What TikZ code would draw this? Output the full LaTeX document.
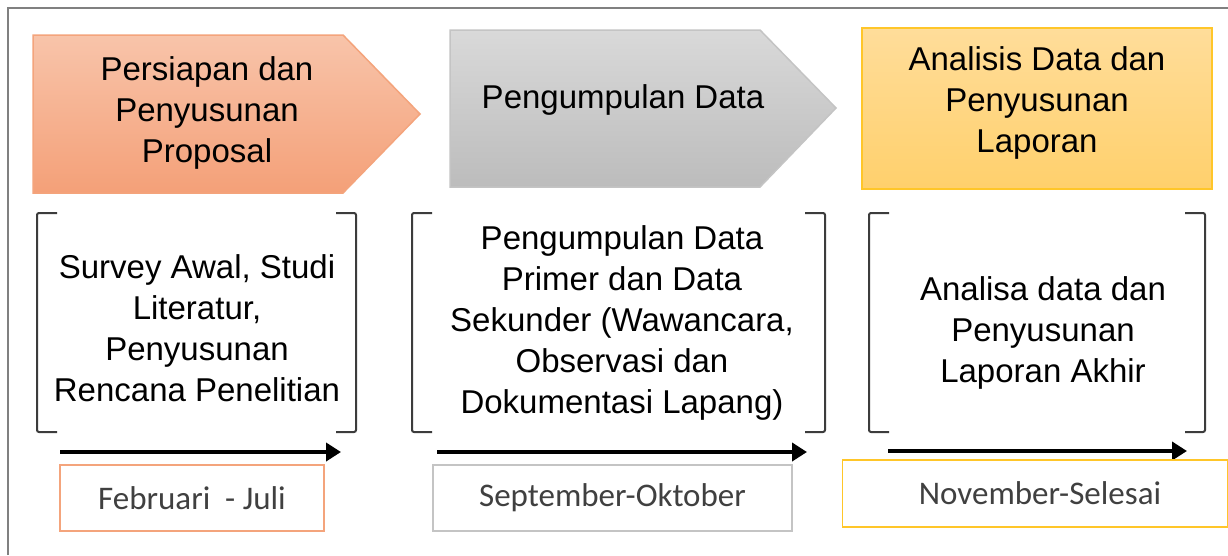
\documentclass[tikz,border=0pt]{standalone}
\usepackage{fontspec}
\setmainfont{Liberation Sans}
\newfontfamily\datefont{Carlito}
\usetikzlibrary{arrows.meta}
\definecolor{orgTop}{HTML}{F8C4AA}
\definecolor{orgBot}{HTML}{F4A078}
\definecolor{orgLine}{HTML}{F4A47C}
\definecolor{gryTop}{HTML}{D9D9D9}
\definecolor{gryBot}{HTML}{BCBCBC}
\definecolor{gryLine}{HTML}{C4C4C4}
\definecolor{ylwTop}{HTML}{FFDD9A}
\definecolor{ylwBot}{HTML}{FFD06C}
\definecolor{ylwLine}{HTML}{FFC629}
\definecolor{frameGray}{HTML}{808080}
\definecolor{brkGray}{HTML}{3C3C3C}
\definecolor{dateText}{HTML}{404040}
\tikzset{
  titletext/.style={align=center, inner sep=0pt, font=\fontsize{33}{41}\selectfont},
  bodytext/.style={align=center, inner sep=0pt, font=\fontsize{33}{41}\selectfont},
  bracketline/.style={draw=brkGray, line width=2pt, rounded corners=2pt},
  timeline/.style={draw=black, line width=3.8pt, -{Triangle[length=15pt,width=18pt]}},
  datebox/.style={rectangle, line width=1.8pt, minimum height=66pt, inner sep=0pt,
    text=dateText, font=\datefont\fontsize{33}{38}\selectfont},
}
\begin{document}
\begin{tikzpicture}[x=1pt,y=-1pt]
\useasboundingbox (0,0) rectangle (1228,555);
\fill[white] (0,0) rectangle (1228,555);
\draw[frameGray, line width=2pt] (8,555) -- (8,8) -- (1228,8);

% step shapes
\path[top color=orgTop, bottom color=orgBot, draw=orgLine, line width=1.5pt]
  (33,35) -- (343,35) -- (420,114) -- (343,193) -- (33,193) -- cycle;
\path[top color=gryTop, bottom color=gryBot, draw=gryLine, line width=1.5pt]
  (450,30) -- (760,30) -- (836,108) -- (760,187) -- (450,187) -- cycle;
\path[top color=ylwTop, bottom color=ylwBot, draw=ylwLine, line width=1.5pt]
  (862,28) rectangle (1212,189);

\node[titletext] (t1) at (207,112.5) {Persiapan dan\\Penyusunan\\Proposal};
\node[titletext, anchor=base] (t2) at (623,108) {Pengumpulan Data};
\node[titletext] (t3) at (1037,102.5) {Analisis Data dan\\Penyusunan\\Laporan};

% brackets
\draw[bracketline] (57,213) -- (37,213) -- (37,432) -- (57,432);
\draw[bracketline] (336,213) -- (356,213) -- (356,432) -- (336,432);
\draw[bracketline] (432,213) -- (412,213) -- (412,432) -- (432,432);
\draw[bracketline] (805,213) -- (825,213) -- (825,432) -- (805,432);
\draw[bracketline] (889,213) -- (869,213) -- (869,432) -- (889,432);
\draw[bracketline] (1185,213) -- (1205,213) -- (1205,432) -- (1185,432);

\node[bodytext] (b1) at (197,328) {Survey Awal, Studi\\Literatur,\\Penyusunan\\Rencana Penelitian};
\node[bodytext] (b2) at (622,323) {Pengumpulan Data\\Primer dan Data\\Sekunder (Wawancara,\\Observasi dan\\Dokumentasi Lapang)};
\node[bodytext] (b3) at (1043,332.5) {Analisa data dan\\Penyusunan\\Laporan Akhir};

% timelines
\coordinate (a1s) at (60,452);
\coordinate (a1e) at (341,452);
\coordinate (a2s) at (437,452);
\coordinate (a2e) at (807,452);
\coordinate (a3s) at (888,451);
\coordinate (a3e) at (1187,451);
\draw[timeline] (a1s) -- (a1e);
\draw[timeline] (a2s) -- (a2e);
\draw[timeline] (a3s) -- (a3e);

% date boxes
\node[datebox, draw=orgLine, minimum width=264pt] (d1) at (192,498) {Februari\ \ - Juli};
\node[datebox, draw=gryLine, minimum width=359pt] (d2) at (612.5,498) {September-Oktober};
\node[datebox, draw=ylwLine, minimum width=385pt, minimum height=67pt] (d3) at (1035,493.5) {\hspace*{10pt}November-Selesai};
\end{tikzpicture}
\end{document}
